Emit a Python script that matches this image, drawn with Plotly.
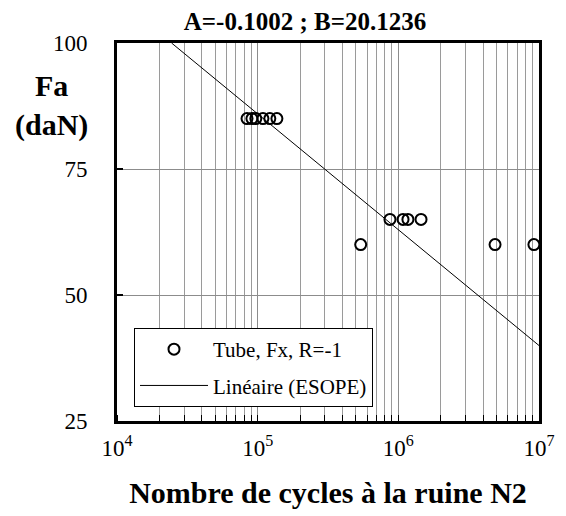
import math
import plotly.graph_objects as go

# Fatigue results: number of cycles to failure N2 and alternating load Fa (daN)
cycles_85 = [84000, 91000, 97000, 109000, 122000, 137000]
fa_85 = [85, 85, 85, 85, 85, 85]
cycles_65 = [872000, 1080000, 1170000, 1450000]
fa_65 = [65, 65, 65, 65]
cycles_60 = [540000, 4870000, 9200000]
fa_60 = [60, 60, 60]

# ESOPE linear fit: ln(N) = B + A * Fa
coef_a = -0.1002
coef_b = 20.1236

fa_max = 100
n_max = 1e7

x_ticks = [1e4, 1e5, 1e6, 1e7]
x_tick_text = ["10<sup>4</sup>", "10<sup>5</sup>", "10<sup>6</sup>", "10<sup>7</sup>"]
y_ticks = [25, 50, 75, 100]

cycles = cycles_85 + cycles_65 + cycles_60
loads = fa_85 + fa_65 + fa_60

fit_n = [math.exp(coef_b + coef_a * fa_max), n_max]
fit_fa = [(math.log(n) - coef_b) / coef_a for n in fit_n]

serif = "Liberation Serif"

# plot area in pixels
PL, PR, PT, PB = 117, 539, 43, 421
W, H = 566, 516
pw, ph = PR - PL, PB - PT

fig = go.Figure()
fig.add_trace(go.Scatter(
    x=cycles, y=loads, mode="markers", name="Tube, Fx, R=-1",
    legendgroup="essais",
    marker=dict(symbol="circle-open", size=11, color="black",
                line=dict(width=2, color="black")),
))
fig.add_trace(go.Scatter(
    x=fit_n, y=fit_fa, mode="lines", name="Linéaire (ESOPE)",
    legendgroup="esope",
    line=dict(color="black", width=1),
))

fig.update_layout(
    width=W, height=H,
    margin=dict(l=PL, r=W - PR, t=PT, b=H - PB),
    paper_bgcolor="white", plot_bgcolor="white",
    font=dict(family=serif, color="black", size=22),
    title=dict(text="<b>A=-0.1002 ; B=20.1236</b>", x=305 / W, xanchor="center",
               y=1 - 21 / H, yanchor="middle",
               font=dict(family=serif, size=25, color="black")),
    showlegend=True,
    legend=dict(x=(134 - PL) / pw, y=(PB - 328) / ph, xanchor="left", yanchor="top",
                bgcolor="white", bordercolor="black", borderwidth=1,
                font=dict(family=serif, size=21, color="black"),
                tracegroupgap=6, itemwidth=68),
    xaxis=dict(
        type="log", range=[4, 7],
        tickvals=x_ticks, ticktext=x_tick_text,
        ticks="", showline=True, mirror=True, linecolor="black", linewidth=3,
        showgrid=True, gridcolor="#8c8c8c", gridwidth=1,
        minor=dict(ticks="inside", ticklen=6, tickcolor="black", showgrid=True,
                   gridcolor="#9a9a9a", gridwidth=1, dtick="D1"),
        tickfont=dict(family=serif, size=23, color="black"),
        ticklabelstandoff=4,
        title=dict(text="<b>Nombre de cycles à la ruine N2</b>",
                   font=dict(family=serif, size=30, color="black"), standoff=23),
        zeroline=False,
    ),
    yaxis=dict(
        range=[25, 100], tickvals=y_ticks,
        ticks="inside", ticklen=6, tickcolor="black", tickwidth=2,
        showline=True, mirror=True, linecolor="black", linewidth=3,
        showgrid=True, gridcolor="#8c8c8c", gridwidth=1,
        tickfont=dict(family=serif, size=23, color="black"),
        ticklabelstandoff=22,
        zeroline=False,
    ),
)

# vertical axis title, written horizontally at the upper left of the plot
fig.add_annotation(
    text="<b>Fa<br>(daN)</b>", xref="paper", yref="paper",
    x=(51 - PL) / pw, y=(PB - 105) / ph, xanchor="center", yanchor="middle",
    showarrow=False, align="center",
    font=dict(family=serif, size=30, color="black"),
)

fig.write_html("out.html")
